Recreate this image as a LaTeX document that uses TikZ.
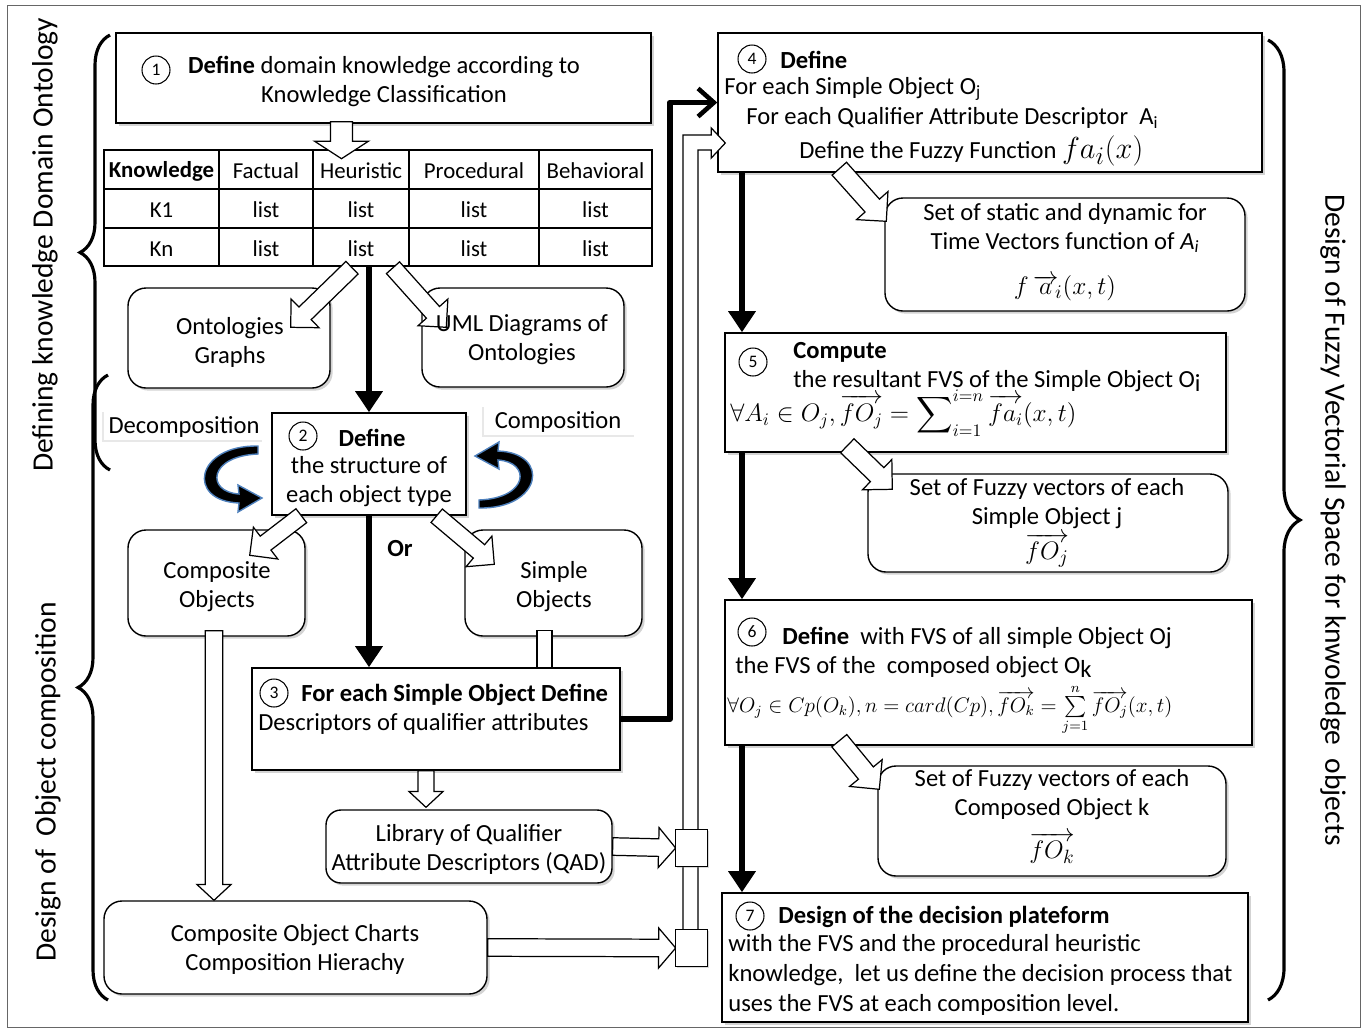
\documentclass[tikz,border=0pt]{standalone}
\usepackage{fontspec}
\setmainfont{Carlito}
\usepackage{amsmath}
\usetikzlibrary{arrows.meta,calc,fit,shadows,decorations.pathreplacing}
\definecolor{cblue}{RGB}{79,129,189}
\tikzset{
 box/.style={draw, line width=0.8pt, fill=white, drop shadow={shadow xshift=1.5pt, shadow yshift=-1.5pt, opacity=0.35}, inner sep=0},
 rbox/.style={box, rounded corners=0.36cm},
 num/.style={circle, draw, line width=0.6pt, minimum size=0.56cm, inner sep=0, font=\fontsize{10}{12}\selectfont, fill=white},
 txt/.style={inner sep=0, align=center},
 ltxt/.style={inner sep=0, anchor=west, align=left},
 thickarr/.style={line width=3.4pt, -{Triangle[width=15pt,length=12pt]}},
 hollow/.style={draw, line width=0.7pt, fill=white},
 lbl/.style={fill=white, inner sep=0, drop shadow={shadow xshift=-1pt, shadow yshift=-1.2pt, opacity=0.18}},
 bracestyle/.style={decorate, decoration={brace, amplitude=#1}, line width=1.8pt},
 sidelbl/.style={font=\fontsize{16.8}{19}\selectfont, inner sep=0},
 tabtxt/.style={inner sep=0, font=\fontsize{13}{16}\selectfont},
}
% hollow arrow: start, end, half shaft, half head, head length
\newcommand\harrow[5]{%
 \coordinate (hs) at #1; \coordinate (he) at #2;
 \coordinate (hn) at ($(he)!#5!(hs)$);
 \draw[hollow] ($(hs)!#3!90:(he)$) -- ($(hn)!#3!90:(he)$) -- ($(hn)!#4!90:(he)$) -- (he)
   -- ($(hn)!#4!-90:(he)$) -- ($(hn)!#3!-90:(he)$) -- ($(hs)!#3!-90:(he)$) -- cycle;
}
\newcommand\curvarrow{%
 \filldraw[fill=black, draw=cblue, line width=0.8pt] (258,446) .. controls (195,445) and (186,501) .. (239,503)
   -- (238,512) -- (262,498) -- (238,485) -- (239,494) .. controls (206,492) and (208,456) .. (258,454) -- cycle;
}
\begin{document}
\begin{tikzpicture}[x=0.02cm,y=-0.02cm, font=\fontsize{14}{16.5}\selectfont]
\useasboundingbox (0,0) rectangle (1366,1032);
\draw[line width=0.5pt, black!60] (7,5) rectangle (1360,1027);

% side labels and braces
\node[sidelbl, rotate=90] (lab1) at (45,245) {Defining knowledge Domain Ontology};
\node[sidelbl, rotate=90] (lab2) at (48,782) {Design of\ \ Object composition};
\node[sidelbl, rotate=-90] (lab3) at (1333,520) {Design of Fuzzy Vectorial Space for knwoledge\ \ objects};
\draw[bracestyle=0.6cm] (110,470) -- (110,35);
\draw[bracestyle=0.6cm] (108,1000) -- (108,375);
\draw[bracestyle=0.64cm] (1268,40) -- (1268,1000);

% box 1
\node[box, fit={(116,33) (651,123)}] (b1) {};
\node[num] (n1) at (156,70) {1};

% table
\node[draw, line width=0.8pt, fill=white, inner sep=0, fit={(104,150) (652,266)}] (tab) {};
\foreach \x in {219,313,409,539} \draw[line width=0.8pt] (\x,150) -- (\x,266);
\foreach \y in {189,228} \draw[line width=0.8pt] (104,\y) -- (652,\y);
\node[tabtxt] (h1) at (161.5,171) {\textbf{Knowledge}};
\node[tabtxt] (h2) at (266,171) {Factual};
\node[tabtxt] (h3) at (361,171) {Heuristic};
\node[tabtxt] (h4) at (474,171) {Procedural};
\node[tabtxt] (h5) at (595.5,171) {Behavioral};
\node[tabtxt] (r11) at (161.5,210) {K1};
\node[tabtxt] (r21) at (161.5,249) {Kn};
\foreach \x/\n in {266/a,361/b,474/c,595.5/d} {
  \node[tabtxt] (r1\n) at (\x,210) {list};
  \node[tabtxt] (r2\n) at (\x,249) {list};
}

% ontology boxes
\node[rbox, fit={(128,288) (330,388)}] (og) {};
\node[rbox, fit={(422,288) (624,387)}] (uml) {};

% decomposition / composition labels
\node[lbl, fit={(104,410) (264,440)}] (dec) {};
\node[lbl, fit={(484,405) (636,435)}] (comp) {};
\node[txt] (tdec) at (184,427) {Decomposition};
\node[txt] (tcomp) at (558,422) {Composition};

% box 2
\node[box, fit={(272,413) (466,515)}] (b2) {};
\node[num] (n2) at (303,436) {2};

% composite / simple
\node[rbox, fit={(128,530) (305,636)}] (co) {};
\node[rbox, fit={(465,530) (642,636)}] (so) {};

% box 3
\node[box, fit={(252,668) (620,770)}] (b3) {};
\node[num] (n3) at (274,693) {3};

% library, charts
\node[rbox, rounded corners=0.3cm, fit={(326,810) (612,883)}] (lib) {};
\node[rbox, fit={(104,901) (487,994)}] (chart) {};

% squares (positions)
\node[inner sep=0, fit={(676,830) (707,866)}] (sq1) {};
\node[inner sep=0, fit={(676,930) (707,966)}] (sq2) {};

% right column boxes
\node[box, fit={(718,33) (1262,172)}] (b4) {};
\node[num] (n4) at (752,59) {4};
\node[rbox, fit={(885,198) (1245,311)}] (st) {};
\node[box, fit={(725,333) (1226,452)}] (b5) {};
\node[num] (n5) at (753,362) {5};
\node[rbox, fit={(868,474) (1228,572)}] (sj) {};
\node[box, fit={(725,600) (1252,745)}] (b6) {};
\node[num] (n6) at (752,632) {6};
\node[rbox, fit={(878,766) (1226,876)}] (ck) {};
\node[box, fit={(722,893) (1248,1022)}] (b7) {};
\node[num] (n7) at (750,916) {7};

% thick arrows
\coordinate (rc) at (742,0);
\draw[thickarr] (tab.south -| b2.north) -- (b2.north);
\draw[thickarr] (b2.south) -- (b2.south |- b3.north);
\draw[thickarr] (b4.south -| rc) -- (b5.north -| rc);
\draw[thickarr] (b5.south -| rc) -- (b6.north -| rc);
\draw[thickarr] (b6.south -| rc) -- (b7.north -| rc);
\coordinate (cor) at (670,0);
\draw[line width=3.4pt, line join=round, -{Straight Barb[length=9pt,width=16pt,line width=2.6pt]}]
  (b3.east) -- (b3.east -| cor) -- (cor |- b4.west) -- (b4.west);

% curved arrows
\curvarrow
\begin{scope}[rotate around={180:(368.5,477)}]
\curvarrow
\end{scope}

% hollow arrows
\harrow{($(b1.south)+(-42,-2)$)}{($(b1.south)+(-42,35)$)}{6.3pt}{15.4pt}{10pt}
\harrow{($(tab.south)+(-26,1)$)}{($(og.north east)+(-40,40)$)}{5pt}{11.4pt}{11.4pt}
\harrow{($(tab.south)+(15,1)$)}{($(uml.north west)+(25,40)$)}{5pt}{11.4pt}{11.4pt}
\harrow{($(b2.south west)+(30,0)$)}{($(co.north east)+(-56,26)$)}{5pt}{11.4pt}{11.4pt}
\harrow{($(b2.south east)+(-30,0)$)}{($(so.north west)+(30,35)$)}{5pt}{11.4pt}{11.4pt}
\harrow{($(co.south)+(-2.5,-6)$)}{($(co.south |- chart.north)+(-2.5,0)$)}{5pt}{9.7pt}{9pt}
\harrow{($(b3.south)+(-10,0)$)}{($(b3.south |- lib.north)+(-10,-2)$)}{4.6pt}{9.7pt}{9pt}
\harrow{(lib.east)}{(sq1.west)}{5pt}{11.4pt}{9.7pt}
\harrow{(chart.east)}{(sq2.west)}{5pt}{11.4pt}{9.7pt}
\harrow{($(b4.south west)+(122,-4)$)}{($(st.north west)+(2,24)$)}{5.5pt}{12pt}{12pt}
\harrow{($(b5.south west)+(123,-7)$)}{($(sj.north west)+(25,16)$)}{5.5pt}{12pt}{12pt}
\harrow{($(b6.south west)+(115,-5)$)}{($(ck.north west)+(2,24)$)}{5.5pt}{12pt}{12pt}
\draw[hollow] ($(so.south)+(-16.5,-6)$) rectangle ($(so.south |- b3.north)+(-1.5,0)$);

% channel to box 4
\coordinate (ch1) at ($(sq2.north)+(-8.5,0)$);
\coordinate (ch2) at ($(sq2.north)+(6.5,0)$);
\coordinate (tipc) at ($(b4.west)+(8,40.5)$);
\draw[hollow] (ch1) |- ($(tipc)+(-14,-8)$) -- ($(tipc)+(-14,-15)$) -- (tipc) -- ($(tipc)+(-14,15)$) -- ($(tipc)+(-14,7)$) -| (ch2) -- cycle;
\draw[line width=0.8pt, fill=white, drop shadow={shadow xshift=1pt, shadow yshift=-1pt, opacity=0.3}] (sq1.south west) rectangle (sq1.north east);
\draw[line width=0.8pt, fill=white, drop shadow={shadow xshift=1pt, shadow yshift=-1pt, opacity=0.3}] (sq2.south west) rectangle (sq2.north east);

% ---- texts ----
\node[txt] (t1) at (384,81) {\textbf{Define} domain knowledge according to\\Knowledge Classification};
\node[txt] (tog) at (230,342) {Ontologies\\Graphs};
\node[txt] (tuml) at (522,340) {UML Diagrams of\\Ontologies};
\node[txt] (t2a) at (372,438) {\textbf{Define}};
\node[txt] (t2b) at (369,482) {the structure of\\each object type};
\node[txt] (or) at (400,549) {\textbf{Or}};
\node[txt] (tco) at (217,587) {Composite\\Objects};
\node[txt] (tso) at (554,587) {Simple\\Objects};
\node[ltxt] (t3a) at (301,695) {\textbf{For each Simple Object Define}};
\node[ltxt] (t3b) at (258,724) {Descriptors of qualifier attributes};
\node[txt] (tlib) at (469,849) {Library of Qualifier\\Attribute Descriptors (QAD)};
\node[txt] (tchart) at (295,949) {Composite Object Charts\\Composition Hierachy};

\node[ltxt] (t4a) at (780,60) {\textbf{Define}};
\node[ltxt] (t4b) at (724,89) {For each Simple Object O\textsubscript{j}};
\node[ltxt] (t4c) at (746,118) {For each Qualifier Attribute Descriptor\ \ A\textsubscript{i}};
\node[ltxt] (t4d) at (799,151) {Define the Fuzzy Function {\fontsize{19}{20}\selectfont$fa_i(x)$}};
\node[txt] (tst) at (1065,228) {Set of static and dynamic for\\Time Vectors function of \textit{A\textsubscript{i}}};
\node[txt, font=\fontsize{15}{18}\selectfont] (fst) at (1065,288) {$f\,\overrightarrow{a}_{\!i}(x,t)$};

\node[ltxt] (t5a) at (793,352) {\textbf{Compute}};
\node[ltxt] (t5b) at (793,381) {the resultant FVS of the Simple Object O\raisebox{-0.4ex}{i}};
\node[ltxt, font=\fontsize{14}{17}\selectfont] (f5) at (730,413) {$\displaystyle\forall A_i \in O_j, \overrightarrow{fO_j} = \sum\nolimits_{i=1}^{i=n} \overrightarrow{fa_i}(x,t)$};
\node[txt] (tsj) at (1047,504) {Set of Fuzzy vectors of each\\Simple Object j};
\node[txt, font=\fontsize{15}{18}\selectfont] (fsj) at (1047,550) {$\overrightarrow{fO_j}$};

\node[ltxt] (t6a) at (782,638) {\textbf{Define}\ \ with FVS of all simple Object Oj};
\node[ltxt] (t6b) at (735,667) {the FVS of the\ \ composed object O\raisebox{-0.4ex}{k}};
\node[ltxt, font=\fontsize{12}{14}\selectfont] (f6) at (727,710) {$\forall O_j \in Cp(O_k), n = card(Cp), \overrightarrow{fO_k} = \sum\limits_{j=1}^{n} \overrightarrow{fO_j}(x,t)$};
\node[txt] (tck) at (1052,795) {Set of Fuzzy vectors of each\\Composed Object k};
\node[txt, font=\fontsize{15}{18}\selectfont] (fck) at (1052,848) {$\overrightarrow{fO_k}$};

\node[ltxt] (t7a) at (778,917) {\textbf{Design of the decision plateform}};
\node[ltxt, font=\fontsize{14}{17.2}\selectfont] (t7b) at (728,975) {with the FVS and the procedural heuristic\\knowledge,\ \ let us define the decision process that\\uses the FVS at each composition level.};
\end{tikzpicture}
\end{document}
